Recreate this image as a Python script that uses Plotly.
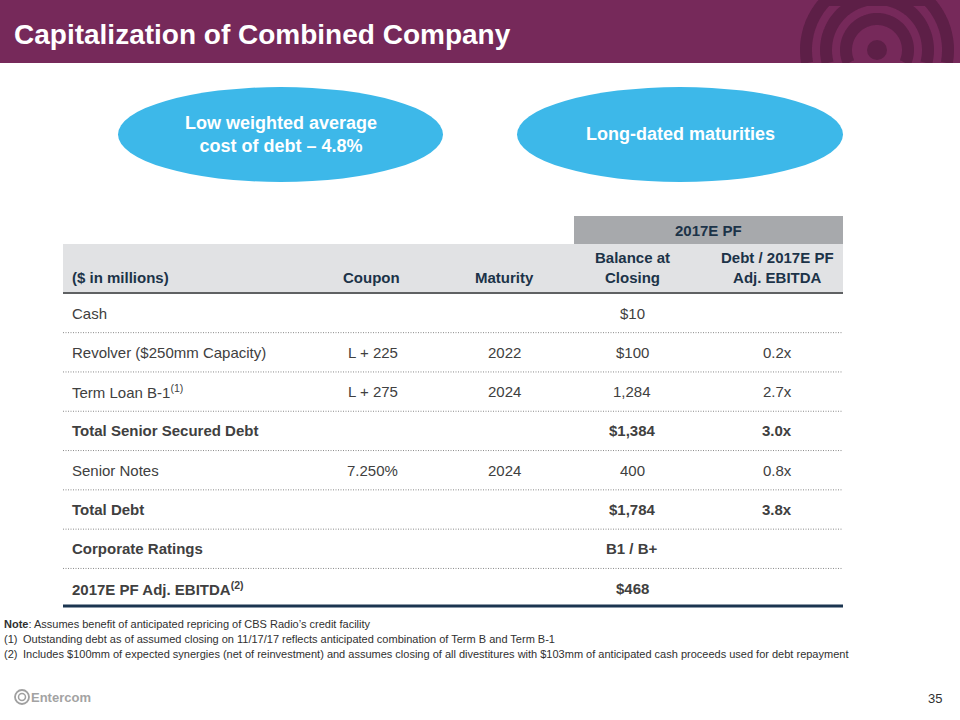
import math
import plotly.graph_objects as go

# ---------------- data ----------------
title = "Capitalization of Combined Company"
bubbles = ["Low weighted average<br>cost of debt – 4.8%", "Long-dated maturities"]
group_header = "2017E PF"
col_headers = ["($ in millions)", "Coupon", "Maturity", "Balance at<br>Closing", "Debt / 2017E PF<br>Adj. EBITDA"]
row_labels = ["Cash", "Revolver ($250mm Capacity)", "Term Loan B-1<sup>(1)</sup>",
              "Total Senior Secured Debt", "Senior Notes", "Total Debt",
              "Corporate Ratings", "2017E PF Adj. EBITDA<sup>(2)</sup>"]
coupons = ["", "L + 225", "L + 275", "", "7.250%", "", "", ""]
maturities = ["", "2022", "2024", "", "2024", "", "", ""]
balances = ["$10", "$100", "1,284", "$1,384", "400", "$1,784", "B1 / B+", "$468"]
leverage = ["", "0.2x", "2.7x", "3.0x", "0.8x", "3.8x", "", ""]
total_rows = ["Total Senior Secured Debt", "Total Debt", "Corporate Ratings", "2017E PF Adj. EBITDA<sup>(2)</sup>"]
notes = ["<b>Note</b>: Assumes benefit of anticipated repricing of CBS Radio’s credit facility",
         "Outstanding debt as of assumed closing on 11/17/17 reflects anticipated combination of Term B and Term B-1",
         "Includes $100mm of expected synergies (net of reinvestment) and assumes closing of all divestitures with $103mm of anticipated cash proceeds used for debt repayment"]
company = "Entercom"
page_no = "35"

# ---------------- styles ----------------
FONT = "Liberation Sans, Arial, sans-serif"
PURPLE = "#76295a"
DARK_PURPLE = "#5d1f47"
BLUE = "#3db8e9"
NAVY = "#1c3348"
TXT = "#404040"

fig = go.Figure()
shapes = []
ann = []

# title bar
BAR_H = 63
shapes.append(dict(type="rect", x0=0, x1=960, y0=0, y1=BAR_H, fillcolor=PURPLE, line_width=0, layer="below"))
# decorative concentric arcs (kept inside the bar)
cx, cy = 877, 50
for r in [31, 51, 71]:
    d = math.degrees(math.asin(min(1.0, (BAR_H - cy) / r)))
    pts = []
    n = 240
    for k in range(n + 1):
        a = math.radians(180 - d + (180 + 2 * d) * k / n)
        x = cx + r * math.cos(a)
        y = max(0.0, cy + r * math.sin(a))
        pts.append((x, y))
    path = "M " + " L ".join(f"{x:.1f},{y:.1f}" for x, y in pts)
    shapes.append(dict(type="path", path=path, line=dict(color=DARK_PURPLE, width=12), layer="above"))
shapes.append(dict(type="circle", x0=cx - 10, x1=cx + 10, y0=cy - 10, y1=cy + 10,
                   fillcolor=DARK_PURPLE, line_width=0))
shapes.append(dict(type="rect", x0=760, x1=960, y0=BAR_H, y1=75, fillcolor="white", line_width=0))
ann.append(dict(x=12, y=34, text=f"<b>{title}</b>", showarrow=False, xanchor="left", yanchor="middle",
                font=dict(family=FONT, size=28, color="white")))

# bubbles
for (x0, x1), txt in zip([(118, 443), (517, 843)], bubbles):
    shapes.append(dict(type="circle", x0=x0, x1=x1, y0=87, y1=182, fillcolor=BLUE, line_width=0))
    ann.append(dict(x=(x0 + x1) / 2, y=134, text=f"<b>{txt}</b>", showarrow=False,
                    font=dict(family=FONT, size=18, color="white"), xanchor="center", yanchor="middle"))

# table header
TL, TR = 63, 843
shapes.append(dict(type="rect", x0=574, x1=TR, y0=216, y1=244, fillcolor="#a7a9ac", line_width=0))
shapes.append(dict(type="rect", x0=TL, x1=TR, y0=244, y1=292, fillcolor="#e1e2e4", line_width=0))
shapes.append(dict(type="line", x0=TL, x1=TR, y0=293, y1=293, line=dict(color="#5f6163", width=2)))
ann.append(dict(x=708, y=230, text=f"<b>{group_header}</b>", showarrow=False,
                font=dict(family=FONT, size=15, color=NAVY), xanchor="center", yanchor="middle"))

col_x = [70, 402, 536, 632, 777]
col_anchor = ["left", "right", "right", "center", "center"]
for h, x, a in zip(col_headers, col_x, col_anchor):
    ann.append(dict(x=x, y=288, text=f"<b>{h}</b>", showarrow=False, xanchor=a, yanchor="bottom",
                    font=dict(family=FONT, size=15, color=NAVY), align="center"))

# rows
y0, dy = 313, 39.3
data_x = [70, 400, 523, 632, 777]
data_anchor = ["left", "right", "right", "center", "center"]
for i, lab in enumerate(row_labels):
    y = y0 + i * dy
    bold = lab in total_rows
    cells = [lab, coupons[i], maturities[i], balances[i], leverage[i]]
    for c, x, a in zip(cells, data_x, data_anchor):
        if not c:
            continue
        t = f"<b>{c}</b>" if bold else c
        ann.append(dict(x=x, y=y, text=t, showarrow=False, xanchor=a, yanchor="middle",
                        font=dict(family=FONT, size=15, color=TXT)))
    if i < len(row_labels) - 1:
        shapes.append(dict(type="line", x0=TL, x1=TR, y0=y + dy / 2, y1=y + dy / 2,
                           line=dict(color="#8a8a8a", width=1, dash="1px,1.5px")))
shapes.append(dict(type="line", x0=TL, x1=TR, y0=606, y1=606, line=dict(color="#1b3550", width=3)))

# notes
NOTE_FONT = dict(family=FONT, size=11, color="#303030")
ann.append(dict(x=2, y=624, text=notes[0], showarrow=False, xanchor="left", yanchor="middle", font=NOTE_FONT))
for k, n in enumerate(notes[1:]):
    yy = 639 + k * 14.5
    ann.append(dict(x=2, y=yy, text=f"({k + 1})", showarrow=False, xanchor="left", yanchor="middle", font=NOTE_FONT))
    ann.append(dict(x=21, y=yy, text=n, showarrow=False, xanchor="left", yanchor="middle", font=NOTE_FONT))

# footer
shapes.append(dict(type="circle", x0=15, x1=29, y0=690, y1=704, line=dict(color="#a0a0a0", width=1.8)))
shapes.append(dict(type="circle", x0=18.5, x1=25.5, y0=693.5, y1=700.5, line=dict(color="#a0a0a0", width=1.5)))
ann.append(dict(x=29, y=697, text=f"<b>{company}</b>", showarrow=False, xanchor="left", yanchor="middle",
                font=dict(family=FONT, size=13, color="#a3a3a3")))
ann.append(dict(x=944, y=698, text=page_no, showarrow=False, xanchor="right", yanchor="middle",
                font=dict(family=FONT, size=13, color="#303030")))

fig.update_layout(
    width=960, height=720, margin=dict(l=0, r=0, t=0, b=0),
    paper_bgcolor="white", plot_bgcolor="white",
    xaxis=dict(range=[0, 960], visible=False, fixedrange=True),
    yaxis=dict(range=[720, 0], visible=False, fixedrange=True),
    shapes=shapes, annotations=ann, showlegend=False,
)
fig.write_html("out.html", config={"displayModeBar": False},
               post_script="document.body.style.margin='0';document.body.style.overflow='hidden';")
